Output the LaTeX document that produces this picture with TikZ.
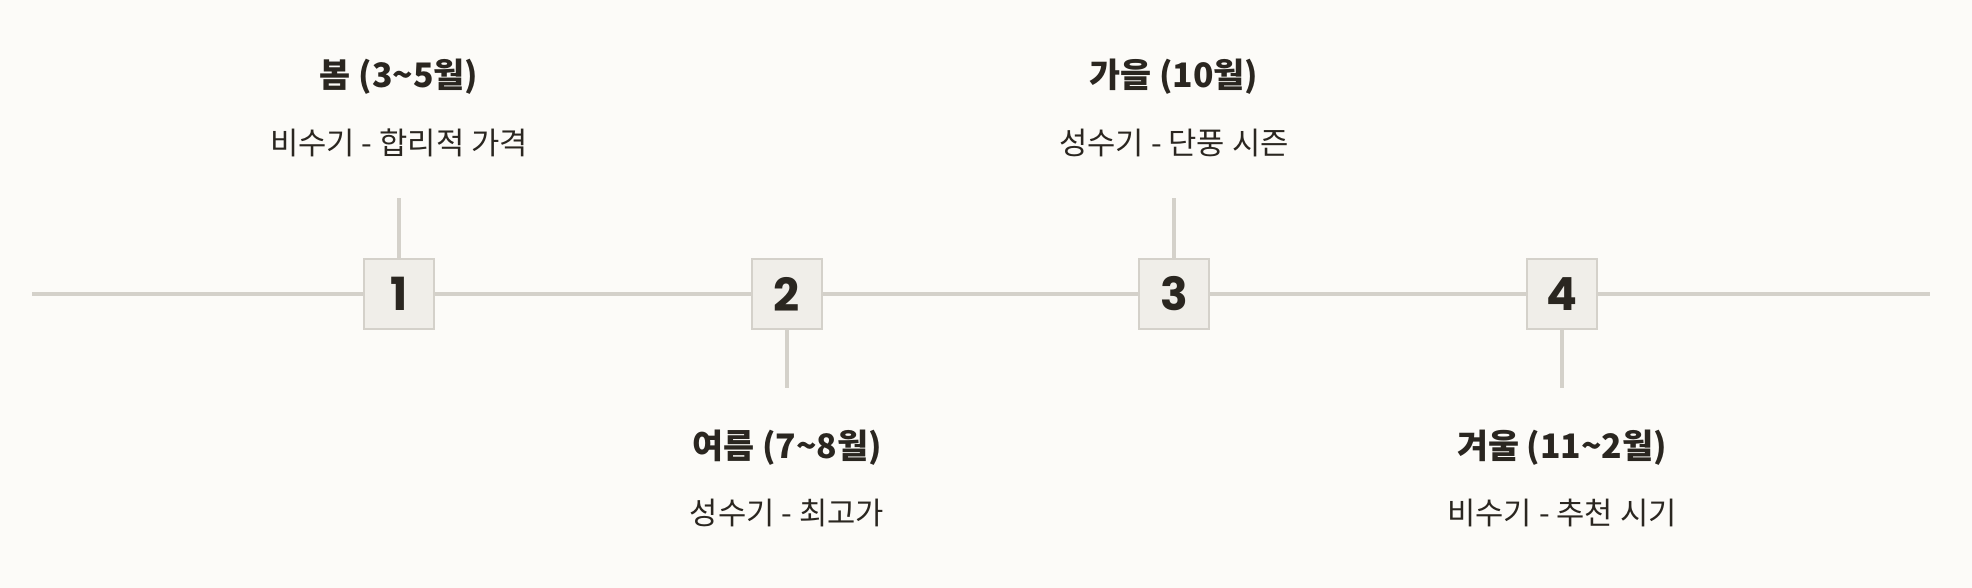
\documentclass[tikz,border=0pt]{standalone}
\usepackage{fontspec}
\setmainfont{Noto Sans CJK KR}
\newfontfamily\numfont{Poppins}
\definecolor{bgcol}{HTML}{FCFBF8}
\definecolor{linecol}{HTML}{D4D1CA}
\definecolor{boxcol}{HTML}{F0EEE9}
\definecolor{inkcol}{HTML}{2A2620}
\tikzset{
  numbox/.style={draw=linecol,fill=boxcol,line width=1.3pt,minimum size=1.4cm,inner sep=0pt,
    font=\numfont\bfseries\fontsize{26}{26}\selectfont,text=inkcol},
  season/.style={font=\bfseries\fontsize{19.2}{21}\selectfont,text=inkcol},
  note/.style={font=\fontsize{17.5}{20}\selectfont,text=inkcol},
  axis/.style={draw=linecol,line width=2pt},
  stub/.style={draw=linecol,line width=2pt}
}
\begin{document}
\begin{tikzpicture}[x=0.02cm,y=-0.02cm]
\fill[bgcol] (0,0) rectangle (1972,588);
\useasboundingbox (0,0) rectangle (1972,588);

% season boxes on the line
\node[numbox] (n1) at (399,294) {1};
\node[numbox] (n2) at (787,294) {2};
\node[numbox] (n3) at (1174,294) {3};
\node[numbox] (n4) at (1562,294) {4};

\coordinate (L) at (32,294);
\coordinate (R) at (1930,294);
\draw[axis] (L) -- (n1) (n1) -- (n2) (n2) -- (n3) (n3) -- (n4) (n4) -- (R);

% stubs
\coordinate (s1) at (399,198);
\coordinate (s2) at (787,388);
\coordinate (s3) at (1174,198);
\coordinate (s4) at (1562,388);
\draw[stub] (n1) -- (s1);
\draw[stub] (n2) -- (s2);
\draw[stub] (n3) -- (s3);
\draw[stub] (n4) -- (s4);

% labels
\node[season] (t1) at (399,77) {봄 (3\textasciitilde5월)};
\node[note] (d1) at (399,143) {비수기 - 합리적 가격};
\node[season] (t2) at (787,448) {여름 (7\textasciitilde8월)};
\node[note] (d2) at (787,513) {성수기 - 최고가};
\node[season] (t3) at (1174,77) {가을 (10월)};
\node[note] (d3) at (1174,143) {성수기 - 단풍 시즌};
\node[season] (t4) at (1562,448) {겨울 (11\textasciitilde2월)};
\node[note] (d4) at (1562,513) {비수기 - 추천 시기};
\end{tikzpicture}
\end{document}
